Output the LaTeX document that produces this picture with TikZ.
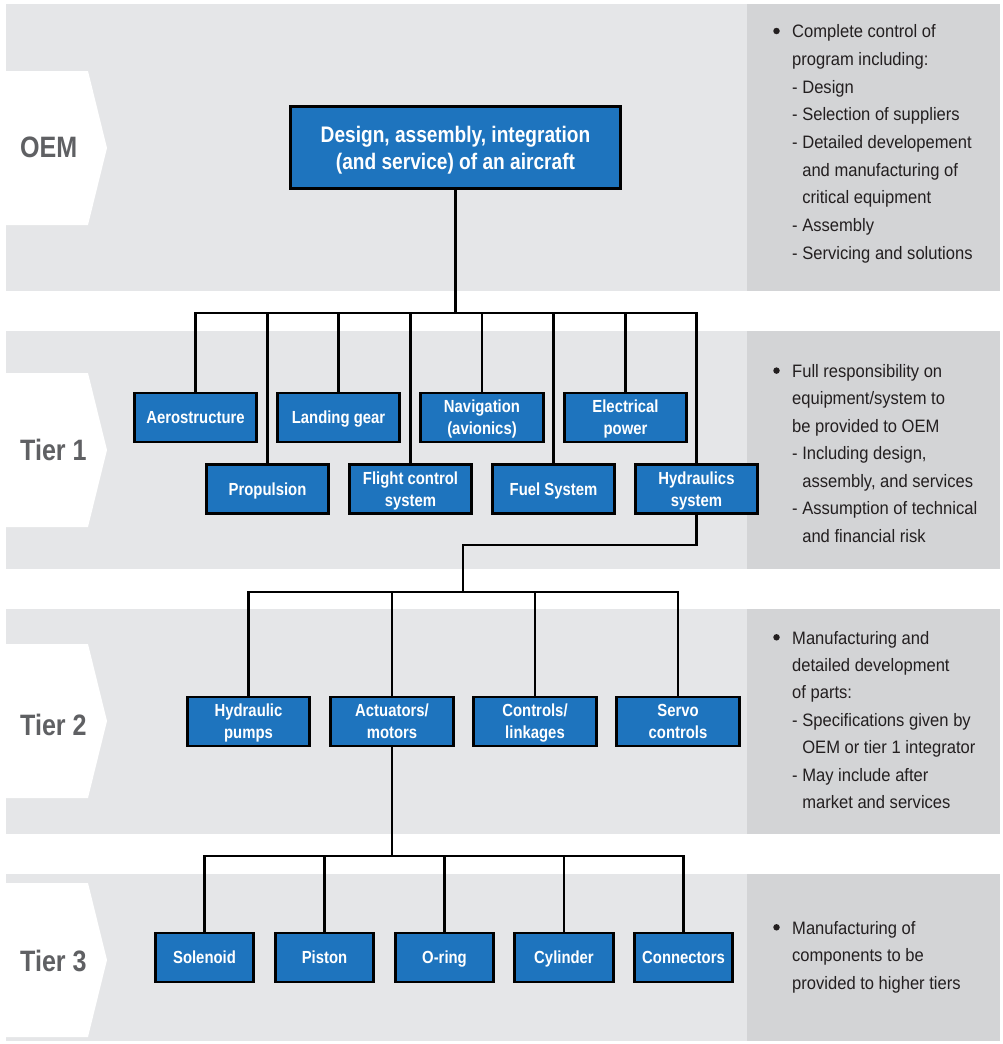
\documentclass[tikz,border=0pt]{standalone}
\usepackage{fontspec}
\setmainfont{Liberation Sans}
\newfontfamily\bodyfont[FakeStretch=0.92]{Liberation Sans}
\newfontfamily\condfont[FakeStretch=0.85]{Liberation Sans}
\usetikzlibrary{calc}

\definecolor{bandgray}{RGB}{229,230,232}
\definecolor{panelgray}{RGB}{211,212,214}
\definecolor{boxblue}{RGB}{30,116,190}
\definecolor{tiergray}{RGB}{95,96,99}
\definecolor{bodytext}{RGB}{35,31,32}

\tikzset{
  band/.style={fill=bandgray, draw=none},
  panel/.style={fill=panelgray, draw=none},
  chevron/.style={fill=white, draw=none},
  tierlabel/.style={anchor=west, inner sep=0pt, text=tiergray,
    font=\condfont\bfseries\fontsize{29.5}{30}\selectfont},
  orgbox/.style={draw=black, line width=2.6pt, fill=boxblue, text=white,
    align=center, inner sep=0pt, minimum height=49pt, text depth=0pt,
    font=\condfont\bfseries\fontsize{17.5}{22}\selectfont},
  widebox/.style={orgbox, minimum width=122.5pt},
  smallbox/.style={orgbox, minimum width=98.5pt},
  topbox/.style={orgbox, minimum width=330pt, minimum height=82pt,
    font=\condfont\bfseries\fontsize{22.5}{27}\selectfont},
  link/.style={draw=black, line width=2.6pt},
  note/.style={anchor=base west, inner sep=0pt, text=bodytext,
    font=\bodyfont\fontsize{18}{27.5}\selectfont},
  bulletdot/.style={circle, fill=bodytext, inner sep=0pt, minimum size=6.5pt},
}

\begin{document}
\begin{tikzpicture}[x=1pt, y=-1pt]
\useasboundingbox (0,0) rectangle (1003,1044);

% tier bands with the darker description column
\foreach \top/\bot in {4/291, 331/569, 609/834, 874/1041} {
  \fill[band] (6,\top) rectangle (1000,\bot);
  \fill[panel] (747,\top) rectangle (1000,\bot);
}

% white chevrons carrying the tier names
\foreach \c in {148, 450, 721, 960} {
  \fill[chevron] (6,\c-77) -- (88,\c-77) -- (107,\c) -- (88,\c+77) -- (6,\c+77) -- cycle;
}

\node[tierlabel] (lOEM) at (20,147.5) {OEM};
\node[tierlabel] (lT1) at (20,450) {Tier 1};
\node[tierlabel] (lT2) at (20,725) {Tier 2};
\node[tierlabel] (lT3) at (20,961) {Tier 3};

% OEM
\node[topbox] (oem) at (455.5,147.5) {Design, assembly, integration\\(and service) of an aircraft};

% Tier 1
\node[widebox] (aero) at (195.5,417.5) {Aerostructure};
\node[widebox] (gear) at (338.5,417.5) {Landing gear};
\node[widebox] (nav)  at (482,417.5)   {Navigation\\(avionics)};
\node[widebox] (elec) at (625.5,417.5) {Electrical\\power};
\node[widebox] (prop) at (267.5,489)   {Propulsion};
\node[widebox] (flt)  at (410.5,489)   {Flight control\\system};
\node[widebox] (fuel) at (553.5,489)   {Fuel System};
\node[widebox] (hyd)  at (696.5,489)   {Hydraulics\\system};

% Tier 2
\node[widebox] (pump) at (248.5,721.5) {Hydraulic\\pumps};
\node[widebox] (act)  at (392,721.5)   {Actuators/\\motors};
\node[widebox] (ctl)  at (535,721.5)   {Controls/\\linkages};
\node[widebox] (servo) at (678,721.5)  {Servo\\controls};

% Tier 3
\node[smallbox] (sol) at (204.5,957.5) {Solenoid};
\node[smallbox] (pis) at (324.5,957.5) {Piston};
\node[smallbox] (ori) at (444.5,957.5) {O-ring};
\node[smallbox] (cyl) at (564,957.5)   {Cylinder};
\node[smallbox] (con) at (683.5,957.5) {Connectors};

% bus lines
\coordinate (bus1) at (455,313);
\coordinate (turn) at (463,545);
\coordinate (bus2) at (463,592);
\coordinate (bus3) at (392,856);

\draw[link] (oem.south) -- (oem.south |- bus1);
\draw[link] (aero.north) -- (aero.north |- bus1) -- (hyd.north |- bus1) -- (hyd.north);
\foreach \n in {prop, gear, flt, nav, fuel, elec}
  \draw[link] (\n.north) -- (\n.north |- bus1);

\draw[link] (hyd.south) -- (hyd.south |- turn) -- (turn) -- (bus2);
\draw[link] (pump.north) -- (pump.north |- bus2) -- (servo.north |- bus2) -- (servo.north);
\foreach \n in {act, ctl}
  \draw[link] (\n.north) -- (\n.north |- bus2);

\draw[link] (act.south) -- (act.south |- bus3);
\draw[link] (sol.north) -- (sol.north |- bus3) -- (con.north |- bus3) -- (con.north);
\foreach \n in {pis, ori, cyl}
  \draw[link] (\n.north) -- (\n.north |- bus3);

% descriptions
\node[bulletdot] (dOEM) at (776.5,31) {};
\foreach \t [count=\i from 0] in {Complete control of, program including:, - Design,
    - Selection of suppliers, - Detailed developement, \phantom{- }and manufacturing of,
    \phantom{- }critical equipment, - Assembly, - Servicing and solutions}
  \node[note] (o\i) at (792,{37.7+27.7*\i}) {\t};

\node[bulletdot] (dT1) at (776.5,370.6) {};
\foreach \t [count=\i from 0] in {Full responsibility on, equipment/system to,
    be provided to OEM, {- Including design,}, {\phantom{- }assembly, and services},
    - Assumption of technical, \phantom{- }and financial risk}
  \node[note] (a\i) at (792,{377.3+27.5*\i}) {\t};

\node[bulletdot] (dT2) at (776.5,637.3) {};
\foreach \t [count=\i from 0] in {Manufacturing and, detailed development, of parts:,
    - Specifications given by, \phantom{- }OEM or tier 1 integrator,
    - May include after, \phantom{- }market and services}
  \node[note] (b\i) at (792,{644+27.4*\i}) {\t};

\node[bulletdot] (dT3) at (776.5,927.3) {};
\foreach \t [count=\i from 0] in {Manufacturing of, components to be, provided to higher tiers}
  \node[note] (c\i) at (792,{934+27.7*\i}) {\t};

\end{tikzpicture}
\end{document}
